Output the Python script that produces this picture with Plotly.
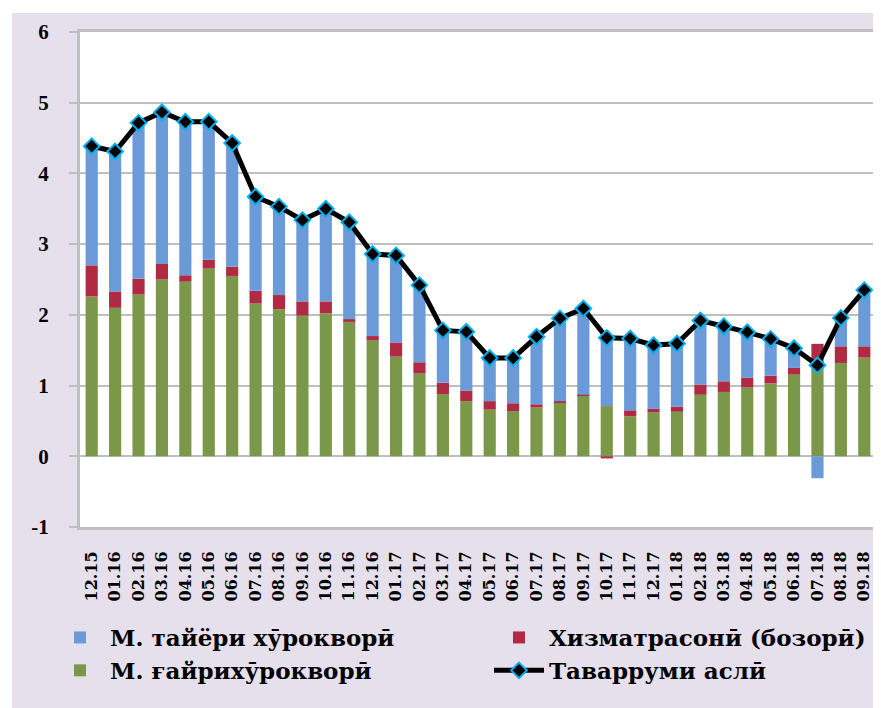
import plotly.graph_objects as go

months = ["12.15", "01.16", "02.16", "03.16", "04.16", "05.16", "06.16", "07.16", "08.16",
          "09.16", "10.16", "11.16", "12.16", "01.17", "02.17", "03.17", "04.17", "05.17",
          "06.17", "07.17", "08.17", "09.17", "10.17", "11.17", "12.17", "01.18", "02.18",
          "03.18", "04.18", "05.18", "06.18", "07.18", "08.18", "09.18"]

food_tradable = [1.685, 1.98, 2.205, 2.145, 2.17, 1.95, 1.75, 1.33, 1.25, 1.15, 1.31, 1.37,
                 1.16, 1.23, 1.09, 0.74, 0.83, 0.61, 0.64, 0.955, 1.17, 1.22, 0.965, 1.015,
                 0.90, 0.89, 0.905, 0.78, 0.645, 0.52, 0.28, -0.31, 0.40, 0.795]

services = [0.44, 0.23, 0.22, 0.22, 0.09, 0.125, 0.13, 0.18, 0.20, 0.20, 0.17, 0.04,
            0.06, 0.20, 0.16, 0.16, 0.15, 0.12, 0.11, 0.045, 0.02, 0.01, -0.03, 0.085,
            0.05, 0.07, 0.145, 0.15, 0.135, 0.11, 0.095, 0.32, 0.235, 0.16]

nonfood = [2.26, 2.10, 2.29, 2.50, 2.47, 2.655, 2.55, 2.16, 2.08, 1.99, 2.02, 1.90,
           1.64, 1.41, 1.17, 0.88, 0.78, 0.66, 0.64, 0.69, 0.76, 0.86, 0.71, 0.565,
           0.62, 0.63, 0.87, 0.91, 0.975, 1.03, 1.155, 1.27, 1.32, 1.395]

core_inflation = [4.385, 4.31, 4.715, 4.865, 4.73, 4.73, 4.43, 3.67, 3.53, 3.34, 3.50, 3.31,
                  2.86, 2.84, 2.42, 1.78, 1.76, 1.39, 1.39, 1.69, 1.95, 2.09, 1.675, 1.665,
                  1.57, 1.594, 1.92, 1.84, 1.755, 1.66, 1.527, 1.287, 1.957, 2.35]

y_ticks = [-1, 0, 1, 2, 3, 4, 5, 6]
y_tick_text = ["-1", "0", "1", "2", "3", "4", "5", "6"]

names = ["М. тайёри хӯрокворӣ", "Хизматрасонӣ (бозорӣ)", "М. ғайрихӯрокворӣ", "Таварруми аслӣ"]

BLUE = "#6A9BD8"
RED = "#B02A43"
GREEN = "#7B974A"
GRID = "#BFBFBF"
BG = "#E5E0EC"
FONT = "'Liberation Serif', 'DejaVu Serif', 'Times New Roman', serif"
WIDE = "'DejaVu Serif', 'Liberation Serif', serif"

fig = go.Figure()
fig.add_trace(go.Bar(x=months, y=nonfood, name=names[2], marker_color=GREEN,
                     marker_line_width=0, legend="legend", legendrank=2))
fig.add_trace(go.Bar(x=months, y=services, name=names[1], marker_color=RED,
                     marker_line_width=0, legend="legend2", legendrank=1))
fig.add_trace(go.Bar(x=months, y=food_tradable, name=names[0], marker_color=BLUE,
                     marker_line_width=0, legend="legend", legendrank=1))
fig.add_trace(go.Scatter(x=months, y=core_inflation, name=names[3], mode="lines+markers",
                         line=dict(color="black", width=5),
                         marker=dict(symbol="diamond", size=12, color="black",
                                     line=dict(color="#00B0F0", width=2)),
                         legend="legend2", legendrank=2))

n = len(months)
OFF = 8  # page offset of the figure inside the browser window
W, H = 873, 700
L, R, T, B = 72, 5, 24, 181
pw = W - L - R
ph = H - T - B

def px(xs):
    return (xs - OFF - L) / pw

def py(ys):
    return (H - B - (ys - OFF)) / ph

fig.update_layout(
    width=W, height=H,
    margin=dict(l=L, r=R, t=T, b=B, autoexpand=False),
    paper_bgcolor=BG, plot_bgcolor="white",
    barmode="relative", bargap=0.48,
    font=dict(family=FONT, color="black"),
    xaxis=dict(type="category", tickangle=-90, ticks="", showgrid=False,
               range=[-0.5, n - 0.5], tickmode="array", tickvals=months, ticktext=months,
               tickfont=dict(family=WIDE, size=16, color="black", weight="bold"),
               showline=True, linecolor=GRID, linewidth=3, mirror=True,
               ticklabelstandoff=15, automargin=False),
    xaxis2=dict(overlaying="x", anchor="free", position=1/7, range=[-0.5, n - 0.5],
                tickvals=[k - 0.5 for k in range(n + 1)], ticks="outside", ticklen=8,
                tickwidth=2, tickcolor=GRID, showticklabels=False, showgrid=False,
                zeroline=False, showline=False),
    yaxis=dict(range=[-1, 6], tickmode="array", tickvals=y_ticks, ticktext=y_tick_text,
               showgrid=True, gridcolor=GRID, gridwidth=2,
               zeroline=True, zerolinecolor=GRID, zerolinewidth=2,
               ticks="outside", ticklen=8, tickwidth=2, tickcolor=GRID,
               tickfont=dict(family=FONT, size=21, color="black", weight="bold"),
               showline=True, linecolor=GRID, linewidth=3, mirror=True,
               ticklabelstandoff=16, automargin=False),
    legend=dict(x=px(50), y=py(616), xanchor="left", yanchor="top", bgcolor="rgba(0,0,0,0)",
                font=dict(family=WIDE, size=23, color="black", weight="bold"),
                itemwidth=50, tracegroupgap=0),
    legend2=dict(x=px(489), y=py(616), xanchor="left", yanchor="top", bgcolor="rgba(0,0,0,0)",
                 font=dict(family=WIDE, size=23, color="black", weight="bold"),
                 itemwidth=50, tracegroupgap=0),
    shapes=[
        dict(type="rect", xref="paper", yref="paper", x0=px(OFF), x1=px(OFF + W),
             y0=py(13), y1=py(OFF), fillcolor="white", line_width=0, layer="below"),
        dict(type="rect", xref="paper", yref="paper", x0=px(OFF), x1=px(12),
             y0=py(OFF + H), y1=py(OFF), fillcolor="white", line_width=0, layer="below"),
    ],
)

fig.write_html("out.html")
